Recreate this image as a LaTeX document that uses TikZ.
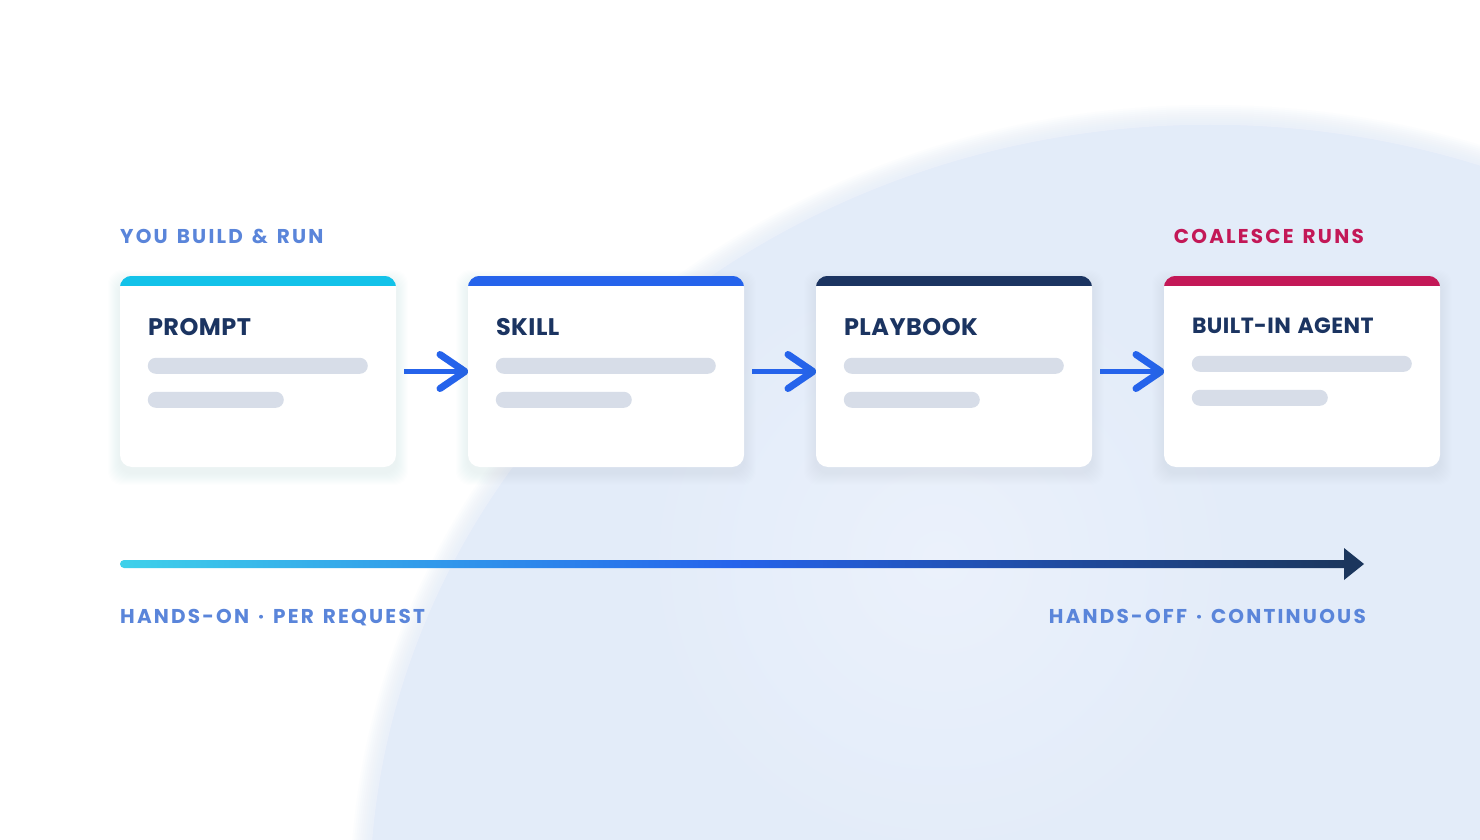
\documentclass[tikz,border=0pt]{standalone}
\usepackage{fontspec}
\setmainfont{Poppins}
\newfontfamily\popb{Poppins}[LetterSpace=11, WordSpace=1.4]
\newfontfamily\popt{Poppins}[LetterSpace=2, WordSpace=1.3]
\definecolor{bgblue}{HTML}{E3ECF9}
\definecolor{bglight}{HTML}{EBF1FB}
\definecolor{shadowc}{HTML}{7088B8}
\definecolor{navy}{HTML}{1B3461}
\definecolor{barc}{HTML}{D7DDE8}
\definecolor{lblblue}{HTML}{5A85DA}
\definecolor{crim}{HTML}{C31857}
\definecolor{cyanbar}{HTML}{12C2E9}
\definecolor{bluebar}{HTML}{2563EB}
\definecolor{navybar}{HTML}{1B3461}
\definecolor{gradA}{HTML}{3ED1EA}
\definecolor{gradB}{HTML}{2563EB}
\definecolor{gradC}{HTML}{1B365D}
\tikzset{
  card/.style={rectangle, rounded corners=12pt, fill=white, minimum width=276pt, minimum height=191pt, inner sep=0pt},
  cardtitle/.style={anchor=base west, inner sep=0pt, text=navy, font=\popt\bfseries\fontsize{24}{28}\selectfont},
  toplabel/.style={inner sep=0pt, font=\popb\bfseries\fontsize{20}{24}\selectfont},
  shaft/.style={draw=bluebar, line width=4.5pt},
  chev/.style={draw=bluebar, line width=7pt, line cap=round, line join=round},
}
\newcommand\mkcard[6]{%
  \foreach \i in {1,...,12}{%
    \fill[shadowc, opacity=0.008, rounded corners=14pt] (#2-\i, 276-\i+6) rectangle (#2+276+\i, 467+\i+6);
  }
  \node[card] (#1) at (#2+138, 371.5) {};
  \begin{scope}
    \clip[rounded corners=12pt] (#1.south west) rectangle (#1.north east);
    \fill[#3] (#1.north west) rectangle ([yshift=-10pt]#1.north east);
  \end{scope}
  \pgfmathsetmacro\ta{-60+#6}
  \pgfmathsetmacro\ba{-82+#6}
  \pgfmathsetmacro\bb{-98+#6}
  \pgfmathsetmacro\bc{-116+#6}
  \pgfmathsetmacro\bd{-132+#6}
  \node[cardtitle, font=\popt\bfseries\fontsize{#5}{#5}\selectfont] (#1t) at ([xshift=28pt, yshift=\ta pt]#1.north west) {#4};
  \fill[barc, rounded corners=8pt] ([xshift=28pt, yshift=\ba pt]#1.north west) rectangle ([xshift=248pt, yshift=\bb pt]#1.north west);
  \fill[barc, rounded corners=8pt] ([xshift=28pt, yshift=\bc pt]#1.north west) rectangle ([xshift=164pt, yshift=\bd pt]#1.north west);
}
\begin{document}
\begin{tikzpicture}[x=1pt, y=-1pt]
\useasboundingbox (0,0) rectangle (1480,840);
\fill[white] (0,0) rectangle (1480,840);
\begin{scope}
  \clip (0,0) rectangle (1480,840);
  \fill[bgblue] (1210,900) ellipse [x radius=840, y radius=775];
  \foreach \i in {1,...,10}{%
    \fill[bgblue, opacity=0.1] (1210,900) ellipse [x radius={840+2*\i}, y radius={775+2*\i}];
  }
  \shade[inner color=bglight, outer color=bgblue] (940,560) circle (300);
\end{scope}
% top labels
\node[toplabel, anchor=base west, text=lblblue] (lyou) at (120,243) {YOU BUILD \& RUN};
\node[toplabel, anchor=base east, text=crim] (lcoal) at (1364,243) {COALESCE RUNS};
% coordinates at the card edges, so the arrows can be drawn beneath the cards
\coordinate (e1) at (396,371.5);
\coordinate (w2) at (468,371.5);
\coordinate (e2) at (744,371.5);
\coordinate (w3) at (816,371.5);
\coordinate (e3) at (1092,371.5);
\coordinate (w4) at (1164,371.5);
\draw[shaft] ([xshift=8pt]e1) -- ([xshift=-4pt]w2);
\draw[chev] ([xshift=-28pt,yshift=17pt]w2) -- ([xshift=-3pt]w2) -- ([xshift=-28pt,yshift=-17pt]w2);
\draw[shaft] ([xshift=8pt]e2) -- ([xshift=-4pt]w3);
\draw[chev] ([xshift=-28pt,yshift=17pt]w3) -- ([xshift=-3pt]w3) -- ([xshift=-28pt,yshift=-17pt]w3);
\draw[shaft] ([xshift=8pt]e3) -- ([xshift=-4pt]w4);
\draw[chev] ([xshift=-28pt,yshift=17pt]w4) -- ([xshift=-3pt]w4) -- ([xshift=-28pt,yshift=-17pt]w4);
% cards
\mkcard{c1}{120}{cyanbar}{PROMPT}{24}{0}
\mkcard{c2}{468}{bluebar}{SKILL}{24}{0}
\mkcard{c3}{816}{navybar}{PLAYBOOK}{24}{0}
\mkcard{c4}{1164}{crim}{BUILT-IN AGENT}{22}{2}
% progress arrow
\coordinate (ps) at (120,564);
\coordinate (pe) at (1364,564);
\shade[left color=gradA, right color=gradC, middle color=gradB, rounded corners=4pt] ([yshift=4pt]ps) rectangle ([xshift=-16pt, yshift=-4pt]pe);
\fill[gradC] (pe) -- ([xshift=-20pt, yshift=16pt]pe) -- ([xshift=-20pt, yshift=-16pt]pe) -- cycle;
% bottom labels
\node[toplabel, anchor=base west, text=lblblue] (lon) at (120,623) {HANDS-ON · PER REQUEST};
\node[toplabel, anchor=base east, text=lblblue] (loff) at (1366,623) {HANDS-OFF · CONTINUOUS};
\end{tikzpicture}
\end{document}
